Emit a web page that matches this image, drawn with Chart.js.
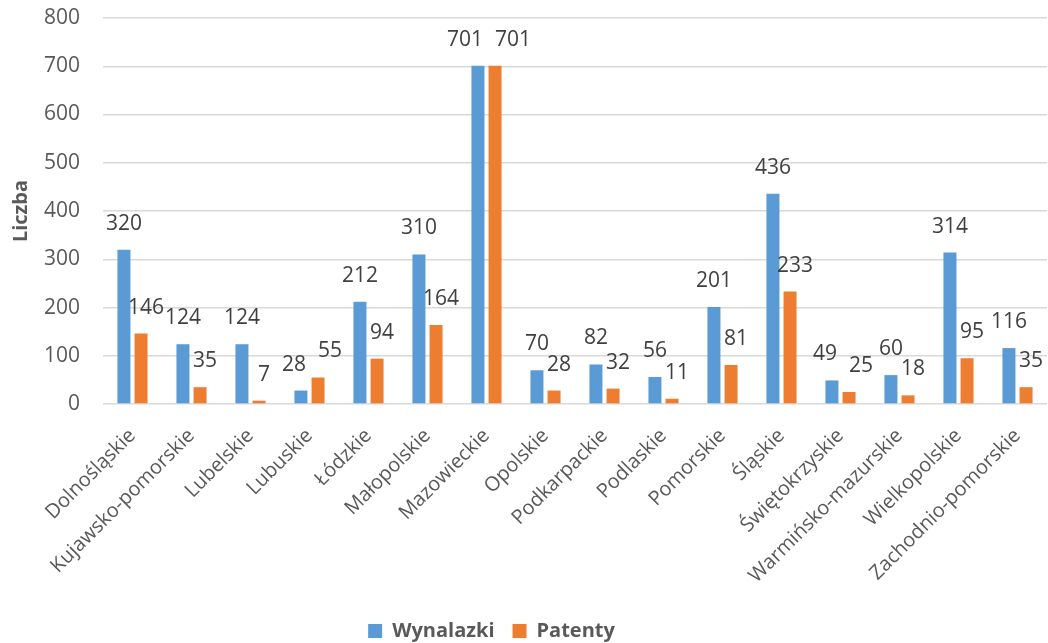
<!DOCTYPE html>
<html lang="pl">
<head>
<meta charset="utf-8">
<script src="https://cdn.jsdelivr.net/npm/chart.js@4/dist/chart.umd.min.js"></script>
<style>
  html, body { margin: 0; padding: 0; background: #fff; }
  #wrap { width: 1048px; height: 643px; position: relative; }
</style>
</head>
<body>
<div id="wrap"><canvas id="chart"></canvas></div>
<script>
const regions = [
  'Dolnośląskie', 'Kujawsko-pomorskie', 'Lubelskie', 'Lubuskie', 'Łódzkie', 'Małopolskie',
  'Mazowieckie', 'Opolskie', 'Podkarpackie', 'Podlaskie', 'Pomorskie', 'Śląskie',
  'Świętokrzyskie', 'Warmińsko-mazurskie', 'Wielkopolskie', 'Zachodnio-pomorskie'
];
const inventions = [320, 124, 124, 28, 212, 310, 701, 70, 82, 56, 201, 436, 49, 60, 314, 116];
const patents = [146, 35, 7, 55, 94, 164, 701, 28, 32, 11, 81, 233, 25, 18, 95, 35];
const yTickValues = [0, 100, 200, 300, 400, 500, 600, 700, 800];

const FONT = '"Open Sans", "Noto Sans", sans-serif';
const TEXT = '#595959';

// value labels above each bar; pairs that would collide are pushed apart
const valueLabels = {
  id: 'valueLabels',
  afterDatasetsDraw(chart) {
    const { ctx } = chart;
    ctx.save();
    ctx.font = `21px ${FONT}`;
    ctx.fillStyle = '#404040';
    ctx.textAlign = 'center';
    ctx.textBaseline = 'middle';
    const blue = chart.getDatasetMeta(0).data;
    const orange = chart.getDatasetMeta(1).data;
    blue.forEach((b, i) => {
      const o = orange[i];
      const t1 = String(inventions[i]);
      const t2 = String(patents[i]);
      let x1 = b.x;
      let x2 = o.x + 5;
      const y1 = b.y - 26;
      const y2 = o.y - 26;
      const w1 = ctx.measureText(t1).width;
      const w2 = ctx.measureText(t2).width;
      if (Math.abs(y1 - y2) < 18) {
        const overlap = (x1 + w1 / 2) - (x2 - w2 / 2) + 12;
        if (overlap > 0) {
          x1 -= overlap / 2;
          x2 += overlap / 2;
        }
      }
      ctx.fillText(t1, x1, y1);
      ctx.fillText(t2, x2, y2);
    });
    ctx.restore();
  }
};

// legend sits left of the canvas centre and slightly lower in the original
const legendShift = {
  id: 'legendShift',
  afterLayout(chart) {
    const lg = chart.legend;
    if (!lg) return;
    lg.left -= 32;
    lg.right -= 32;
    lg.top += 8;
    lg.bottom += 8;
  }
};

new Chart(document.getElementById('chart'), {
  type: 'bar',
  data: {
    labels: regions,
    datasets: [
      { label: 'Wynalazki', data: inventions, backgroundColor: '#5B9BD5' },
      { label: 'Patenty', data: patents, backgroundColor: '#ED7D31' }
    ]
  },
  options: {
    responsive: true,
    maintainAspectRatio: false,
    animation: false,
    layout: { padding: { top: 18, right: 1, left: 0, bottom: 0 } },
    datasets: { bar: { categoryPercentage: 0.58, barPercentage: 0.76 } },
    plugins: {
      tooltip: { enabled: false },
      legend: {
        position: 'bottom',
        labels: {
          boxWidth: 14,
          boxHeight: 14,
          padding: 18,
          color: TEXT,
          font: { family: FONT, size: 20, weight: 'bold' }
        }
      }
    },
    scales: {
      x: {
        afterFit: scale => { scale.height -= 5; },
        grid: { display: false },
        border: { display: false },
        ticks: {
          autoSkip: false,
          minRotation: 45,
          maxRotation: 45,
          padding: 12,
          color: TEXT,
          font: { family: FONT, size: 20 }
        }
      },
      y: {
        min: 0,
        max: 800,
        afterBuildTicks: scale => { scale.ticks = yTickValues.map(v => ({ value: v })); },
        afterFit: scale => {
          scale.width = 103;
          scale.paddingTop = 0;
          scale.paddingBottom = 0;
        },
        grid: { color: '#d9d9d9', lineWidth: 1.5, drawTicks: false },
        border: { display: false },
        ticks: {
          padding: 23,
          color: TEXT,
          font: { family: FONT, size: 21 }
        },
        title: {
          display: true,
          text: 'Liczba',
          color: TEXT,
          padding: { top: 9, bottom: 0 },
          font: { family: FONT, size: 20, weight: 'bold' }
        }
      }
    }
  },
  plugins: [valueLabels, legendShift]
});
</script>
</body>
</html>
